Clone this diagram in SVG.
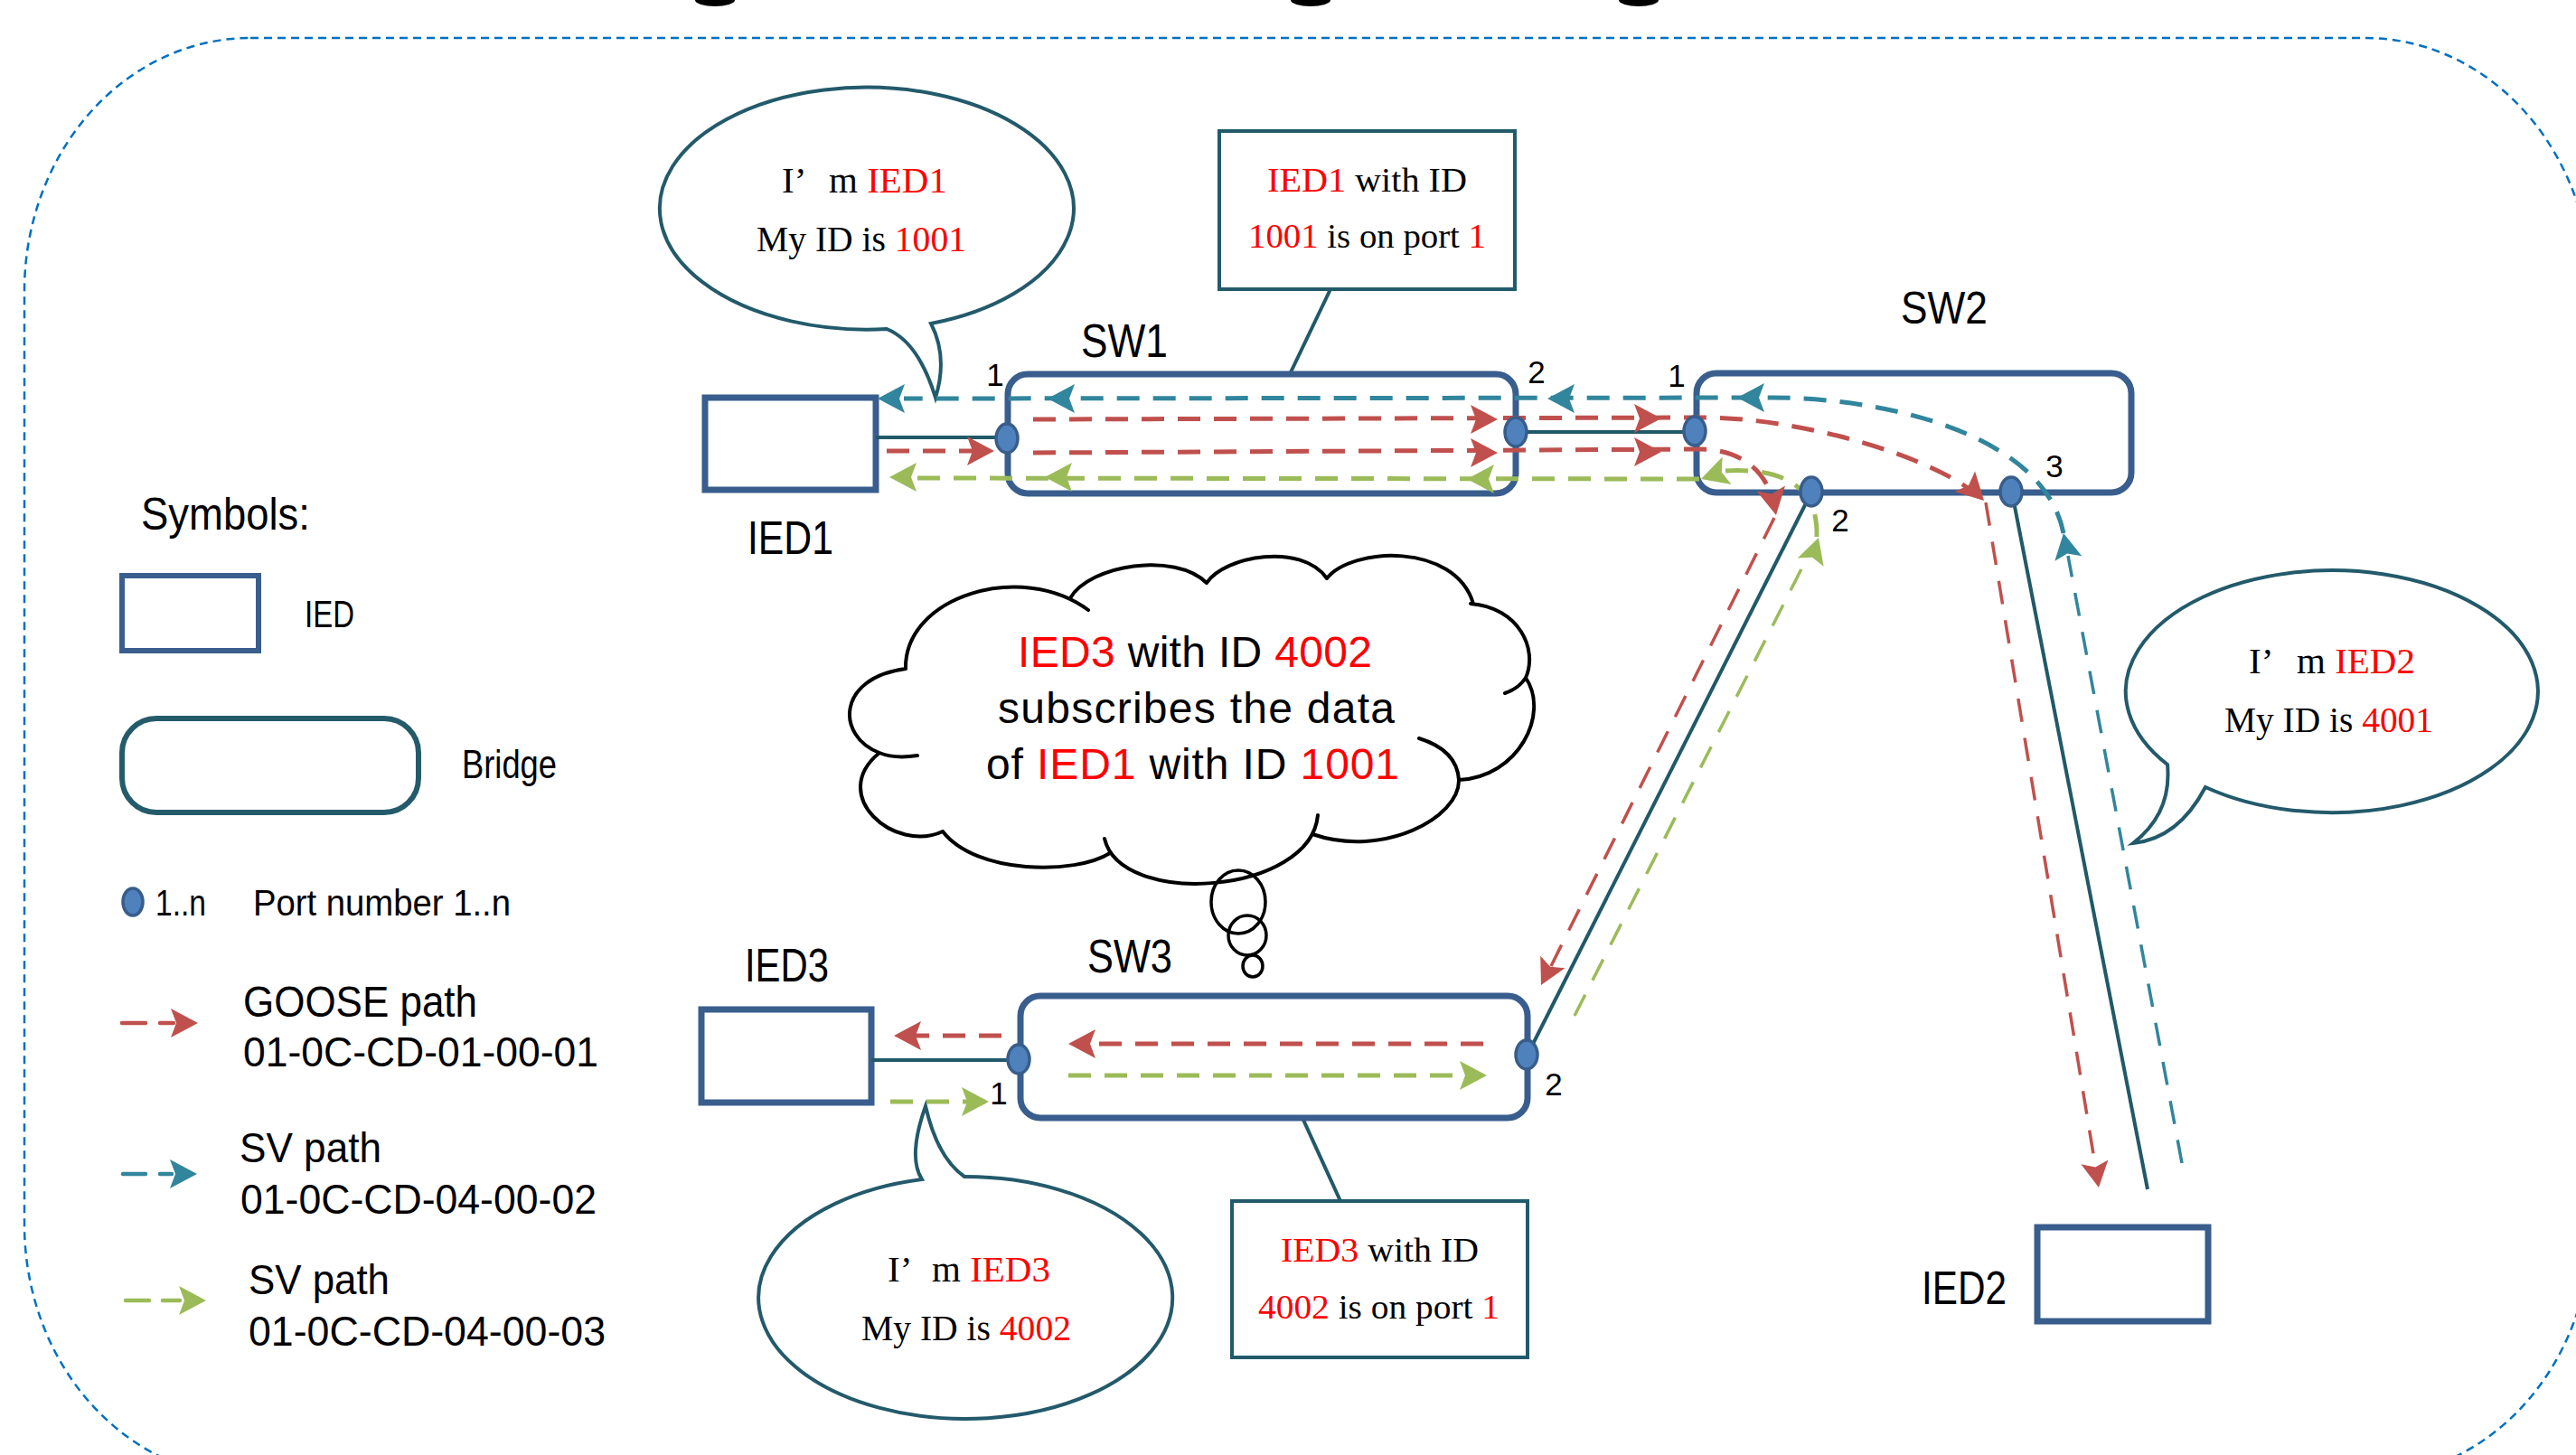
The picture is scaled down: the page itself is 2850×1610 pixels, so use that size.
<svg xmlns="http://www.w3.org/2000/svg" xmlns:xlink="http://www.w3.org/1999/xlink" width="2850" height="1610" viewBox="0 0 2850 1610">
<style>
.sans{font-family:"Liberation Sans",Arial,sans-serif;fill:#000}
.ser{font-family:"Liberation Serif","Times New Roman",serif;fill:#000;font-size:41px}
.nb{font-size:38px}
.r{fill:#FF0000}
.ied{fill:#fff;stroke:#395E8D;stroke-width:7}
.br{fill:#fff;stroke:#395E8D;stroke-width:7}
.port{fill:#4F81BD;stroke:#385D8A;stroke-width:3.5}
.link{fill:none;stroke:#215968;stroke-width:4}
.call{fill:#fff;stroke:#235A6B;stroke-width:4}
.fl{fill:none;stroke-width:5;stroke-dasharray:25 15}
.dg{fill:none;stroke-width:3.5;stroke-dasharray:26 18}
.lg{fill:none;stroke-width:4.5;stroke-linecap:round}
.red{stroke:#C0504D}
.teal{stroke:#31859C}
.grn{stroke:#9BBB59}
.cloud{fill:none;stroke:#000;stroke-width:4;stroke-linecap:round}
</style>
<defs>
<path id="ah" d="M0,0 L-30,-16 L-24,0 L-30,16 Z"/>
</defs>
<rect width="2850" height="1610" fill="#fff"/>
<!-- cut-off title fragments -->
<g id="title-fragments" fill="#000">
<ellipse cx="791" cy="0" rx="22" ry="7"/>
<ellipse cx="1450" cy="0" rx="22" ry="7"/>
<ellipse cx="1813" cy="0" rx="22" ry="7"/>
</g>
<!-- outer dashed border -->
<rect id="frame" x="27" y="42" width="2840" height="1593" rx="250" ry="280" fill="none" stroke="#0070C0" stroke-width="2.5" stroke-dasharray="9 6"/>

<!-- legend -->
<g id="legend">
<text class="sans" x="156" y="586" font-size="50" textLength="187" lengthAdjust="spacingAndGlyphs">Symbols:</text>
<rect x="135" y="637" width="151" height="83" fill="#fff" stroke="#395E8D" stroke-width="6"/>
<text class="sans" x="337" y="694" font-size="43" textLength="55" lengthAdjust="spacingAndGlyphs">IED</text>
<rect x="135" y="795" width="328" height="104" rx="38" ry="38" fill="#fff" stroke="#245B6A" stroke-width="6"/>
<text class="sans" x="511" y="861" font-size="44" textLength="105" lengthAdjust="spacingAndGlyphs">Bridge</text>
<ellipse class="port" cx="147" cy="998" rx="11" ry="15"/>
<text class="sans" x="172" y="1013" font-size="40" textLength="56" lengthAdjust="spacingAndGlyphs">1..n</text>
<text class="sans" x="280" y="1013" font-size="40" textLength="285" lengthAdjust="spacingAndGlyphs">Port number 1..n</text>
<path class="lg red" d="M135,1132 L161,1132 M177,1132 L192,1132"/>
<use xlink:href="#ah" href="#ah" transform="translate(219,1132)" fill="#C0504D"/>
<text class="sans" x="269" y="1125" font-size="48" textLength="259" lengthAdjust="spacingAndGlyphs">GOOSE path</text>
<text class="sans" x="269" y="1180" font-size="46" textLength="393" lengthAdjust="spacingAndGlyphs">01-0C-CD-01-00-01</text>
<path class="lg teal" d="M136,1299 L161,1299 M177,1299 L190,1299"/>
<use xlink:href="#ah" href="#ah" transform="translate(218,1299)" fill="#31859C"/>
<text class="sans" x="265" y="1286" font-size="46" textLength="157" lengthAdjust="spacingAndGlyphs">SV path</text>
<text class="sans" x="266" y="1343" font-size="46" textLength="394" lengthAdjust="spacingAndGlyphs">01-0C-CD-04-00-02</text>
<path class="lg grn" d="M139,1439 L165,1439 M180,1439 L199,1439"/>
<use xlink:href="#ah" href="#ah" transform="translate(228,1439)" fill="#9BBB59"/>
<text class="sans" x="275" y="1432" font-size="46" textLength="156" lengthAdjust="spacingAndGlyphs">SV path</text>
<text class="sans" x="275" y="1489" font-size="46" textLength="395" lengthAdjust="spacingAndGlyphs">01-0C-CD-04-00-03</text>
</g>

<!-- callouts -->
<g id="callout-ied1">
<path class="call" d="M981,364 A229,134 0 1,1 1030,358 Q1049,395 1035,440 Q1016,378 981,364 Z"/>
<text class="ser" y="213"><tspan x="865">I’</tspan><tspan x="917">m </tspan><tspan class="r">IED1</tspan></text>
<text class="ser" x="837" y="278" textLength="232" lengthAdjust="spacingAndGlyphs">My ID is <tspan class="r">1001</tspan></text>
</g>
<g id="note-ied1">
<line class="link" x1="1472" y1="320" x2="1427" y2="414"/>
<rect x="1349" y="145" width="327" height="175" fill="#fff" stroke="#235A6B" stroke-width="4"/>
<text class="ser nb" x="1402" y="212" textLength="221" lengthAdjust="spacingAndGlyphs"><tspan class="r">IED1</tspan> with ID</text>
<text class="ser nb" x="1381" y="274" textLength="263" lengthAdjust="spacingAndGlyphs"><tspan class="r">1001</tspan> is on port <tspan class="r">1</tspan></text>
</g>
<g id="callout-ied2">
<path class="call" d="M2398,846 A228,134 0 1,1 2440,871 Q2410,928 2360,933 Q2403,900 2398,846 Z"/>
<text class="ser" y="745"><tspan x="2488">I’</tspan><tspan x="2541">m </tspan><tspan class="r">IED2</tspan></text>
<text class="ser" x="2461" y="810" textLength="231" lengthAdjust="spacingAndGlyphs">My ID is <tspan class="r">4001</tspan></text>
</g>
<g id="callout-ied3">
<path class="call" d="M1067,1302 A229,134 0 1,1 1020,1305 Q1004,1280 1024,1224 Q1037,1281 1067,1302 Z"/>
<text class="ser" y="1418"><tspan x="982">I’</tspan><tspan x="1031">m </tspan><tspan class="r">IED3</tspan></text>
<text class="ser" x="953" y="1483" textLength="232" lengthAdjust="spacingAndGlyphs">My ID is <tspan class="r">4002</tspan></text>
</g>
<g id="note-ied3">
<line class="link" x1="1441" y1="1237" x2="1483" y2="1329"/>
<rect x="1363" y="1329" width="327" height="173" fill="#fff" stroke="#235A6B" stroke-width="4"/>
<text class="ser nb" x="1417" y="1396" textLength="219" lengthAdjust="spacingAndGlyphs"><tspan class="r">IED3</tspan> with ID</text>
<text class="ser nb" x="1392" y="1459" textLength="267" lengthAdjust="spacingAndGlyphs"><tspan class="r">4002</tspan> is on port <tspan class="r">1</tspan></text>
</g>
<g id="thought-cloud">
<path class="cloud" d="M1002,740 C1000,660 1130,620 1204,675 M1184,662 C1205,625 1300,610 1335,645 M1335,645 C1355,615 1440,600 1468,640 M1468,640 C1495,605 1610,600 1630,668 M1627,668 C1680,672 1702,718 1688,750 Q1680,762 1665,767 M1688,750 C1715,790 1680,860 1614,863 M1570,817 Q1612,830 1614,863 C1615,905 1530,950 1452,923 M1458,902 C1450,990 1240,1005 1222,928 M1228,944 C1190,968 1080,968 1043,920 M1043,920 C990,945 915,880 973,833 M1015,836 Q990,840 973,833 C925,815 925,750 1002,740"/>
<ellipse cx="1370" cy="998" rx="30" ry="35" fill="none" stroke="#000" stroke-width="3.5"/>
<ellipse cx="1380" cy="1035" rx="21" ry="22" fill="none" stroke="#000" stroke-width="3.5"/>
<ellipse cx="1386" cy="1069" rx="11" ry="12" fill="none" stroke="#000" stroke-width="3.5"/>
<text class="sans" x="1126" y="738" font-size="48" textLength="392" lengthAdjust="spacing"><tspan class="r">IED3</tspan> with ID <tspan class="r">4002</tspan></text>
<text class="sans" x="1104" y="800" font-size="48" textLength="439" lengthAdjust="spacing">subscribes the data</text>
<text class="sans" x="1091" y="862" font-size="48" textLength="457" lengthAdjust="spacing">of <tspan class="r">IED1</tspan> with ID <tspan class="r">1001</tspan></text>
</g>

<!-- nodes -->
<g id="IED1">
<rect class="ied" x="780" y="440" width="189" height="102"/>
<text class="sans" x="827" y="613" font-size="51" textLength="95" lengthAdjust="spacingAndGlyphs">IED1</text>
</g>
<g id="IED2">
<rect class="ied" x="2254" y="1358" width="189" height="104"/>
<text class="sans" x="2126" y="1443" font-size="52" textLength="94" lengthAdjust="spacingAndGlyphs">IED2</text>
</g>
<g id="IED3">
<rect class="ied" x="776" y="1117" width="188" height="103"/>
<text class="sans" x="824" y="1086" font-size="51" textLength="93" lengthAdjust="spacingAndGlyphs">IED3</text>
</g>
<g id="SW1">
<rect class="br" x="1115" y="414" width="562" height="132" rx="22" ry="22"/>
<text class="sans" x="1196" y="395" font-size="51" textLength="96" lengthAdjust="spacingAndGlyphs">SW1</text>
</g>
<g id="SW2">
<rect class="br" x="1877" y="413" width="481" height="132" rx="22" ry="22"/>
<text class="sans" x="2103" y="358" font-size="50" textLength="96" lengthAdjust="spacingAndGlyphs">SW2</text>
</g>
<g id="SW3">
<rect class="br" x="1129" y="1102" width="561" height="135" rx="22" ry="22"/>
<text class="sans" x="1203" y="1076" font-size="51" textLength="94" lengthAdjust="spacingAndGlyphs">SW3</text>
</g>

<!-- connectors -->
<g id="connectors">
<g id="links">
<line class="link" x1="969" y1="484" x2="1114" y2="484"/>
<line class="link" x1="1677" y1="478" x2="1875" y2="478"/>
<line class="link" x1="964" y1="1173" x2="1127" y2="1173"/>
<line class="link" x1="2004" y1="545" x2="1690" y2="1167" stroke-width="3.5"/>
<line class="link" x1="2226" y1="545" x2="2376" y2="1316" stroke-width="3.5"/>
</g>
<g id="sv-teal">
<path class="dg teal" d="M2414,1287 L2288,615"/>
<path class="fl teal" stroke-width="4.5" d="M2283,590 C2262,482 2090,440 1960,440 L1000,441"/>
</g>
<g id="goose-red">
<path class="fl red" d="M981,499 L1095,499"/>
<path class="fl red" d="M1143,464 L1880,462 C1990,461 2140,505 2190,550"/>
<path class="dg red" d="M2197,556 L2319,1295"/>
<path class="fl red" d="M1143,501 L1880,497 C1925,497 1955,520 1963,560"/>
<path class="dg red" d="M1963,573 L1713,1075"/>
<path class="fl red" d="M1641,1155 L1190,1155"/>
<path class="fl red" d="M1108,1146 L995,1146"/>
</g>
<g id="sv-green">
<path class="fl grn" d="M985,1219 L1090,1219"/>
<path class="fl grn" d="M1182,1190 L1640,1190"/>
<path class="dg grn" d="M1742,1124 L2006,604"/>
<path class="fl grn" stroke-width="4.5" d="M2010,594 C2012,540 1975,517 1908,521"/>
<path class="fl grn" d="M1880,530 L1000,529"/>
</g>
<g id="arrowheads">
<use href="#ah" transform="translate(971,441) rotate(180)" fill="#31859C"/>
<use href="#ah" transform="translate(1159,441) rotate(180)" fill="#31859C"/>
<use href="#ah" transform="translate(1712,441) rotate(180)" fill="#31859C"/>
<use href="#ah" transform="translate(1922,440) rotate(180)" fill="#31859C"/>
<use href="#ah" transform="translate(2283,590) rotate(259.3) scale(0.95)" fill="#31859C"/>
<use href="#ah" transform="translate(1100,499)" fill="#C0504D"/>
<use href="#ah" transform="translate(1657,464)" fill="#C0504D"/>
<use href="#ah" transform="translate(1657,501)" fill="#C0504D"/>
<use href="#ah" transform="translate(1838,463)" fill="#C0504D"/>
<use href="#ah" transform="translate(1838,500)" fill="#C0504D"/>
<use href="#ah" transform="translate(2195,554) rotate(45)" fill="#C0504D"/>
<use href="#ah" transform="translate(1965,570) rotate(79)" fill="#C0504D"/>
<use href="#ah" transform="translate(1705,1090) rotate(116.7) scale(0.95)" fill="#C0504D"/>
<use href="#ah" transform="translate(2322,1314) rotate(80.6) scale(0.95)" fill="#C0504D"/>
<use href="#ah" transform="translate(1182,1155) rotate(180)" fill="#C0504D"/>
<use href="#ah" transform="translate(989,1146) rotate(180)" fill="#C0504D"/>
<use href="#ah" transform="translate(1094,1219)" fill="#9BBB59"/>
<use href="#ah" transform="translate(1645,1190)" fill="#9BBB59"/>
<use href="#ah" transform="translate(2012,595) rotate(-72) scale(0.95)" fill="#9BBB59"/>
<use href="#ah" transform="translate(1882,530) rotate(162)" fill="#9BBB59"/>
<use href="#ah" transform="translate(1623,530) rotate(180)" fill="#9BBB59"/>
<use href="#ah" transform="translate(1156,528) rotate(180)" fill="#9BBB59"/>
<use href="#ah" transform="translate(984,528) rotate(180)" fill="#9BBB59"/>
</g>
</g>

<!-- ports -->
<g id="ports">
<ellipse class="port" cx="1114" cy="485" rx="12" ry="16"/>
<ellipse class="port" cx="1677" cy="478" rx="12" ry="16"/>
<ellipse class="port" cx="1875" cy="477" rx="12" ry="16"/>
<ellipse class="port" cx="2004" cy="544" rx="12" ry="16"/>
<ellipse class="port" cx="2225" cy="544" rx="12" ry="16"/>
<ellipse class="port" cx="1127" cy="1172" rx="12" ry="16"/>
<ellipse class="port" cx="1689" cy="1167" rx="12" ry="16"/>
<g class="sans" font-size="35" text-anchor="middle">
<text x="1101" y="427">1</text>
<text x="1700" y="424">2</text>
<text x="1855" y="428">1</text>
<text x="2273" y="528">3</text>
<text x="2036" y="588">2</text>
<text x="1105" y="1222">1</text>
<text x="1719" y="1212">2</text>
</g>
</g>
</svg>
